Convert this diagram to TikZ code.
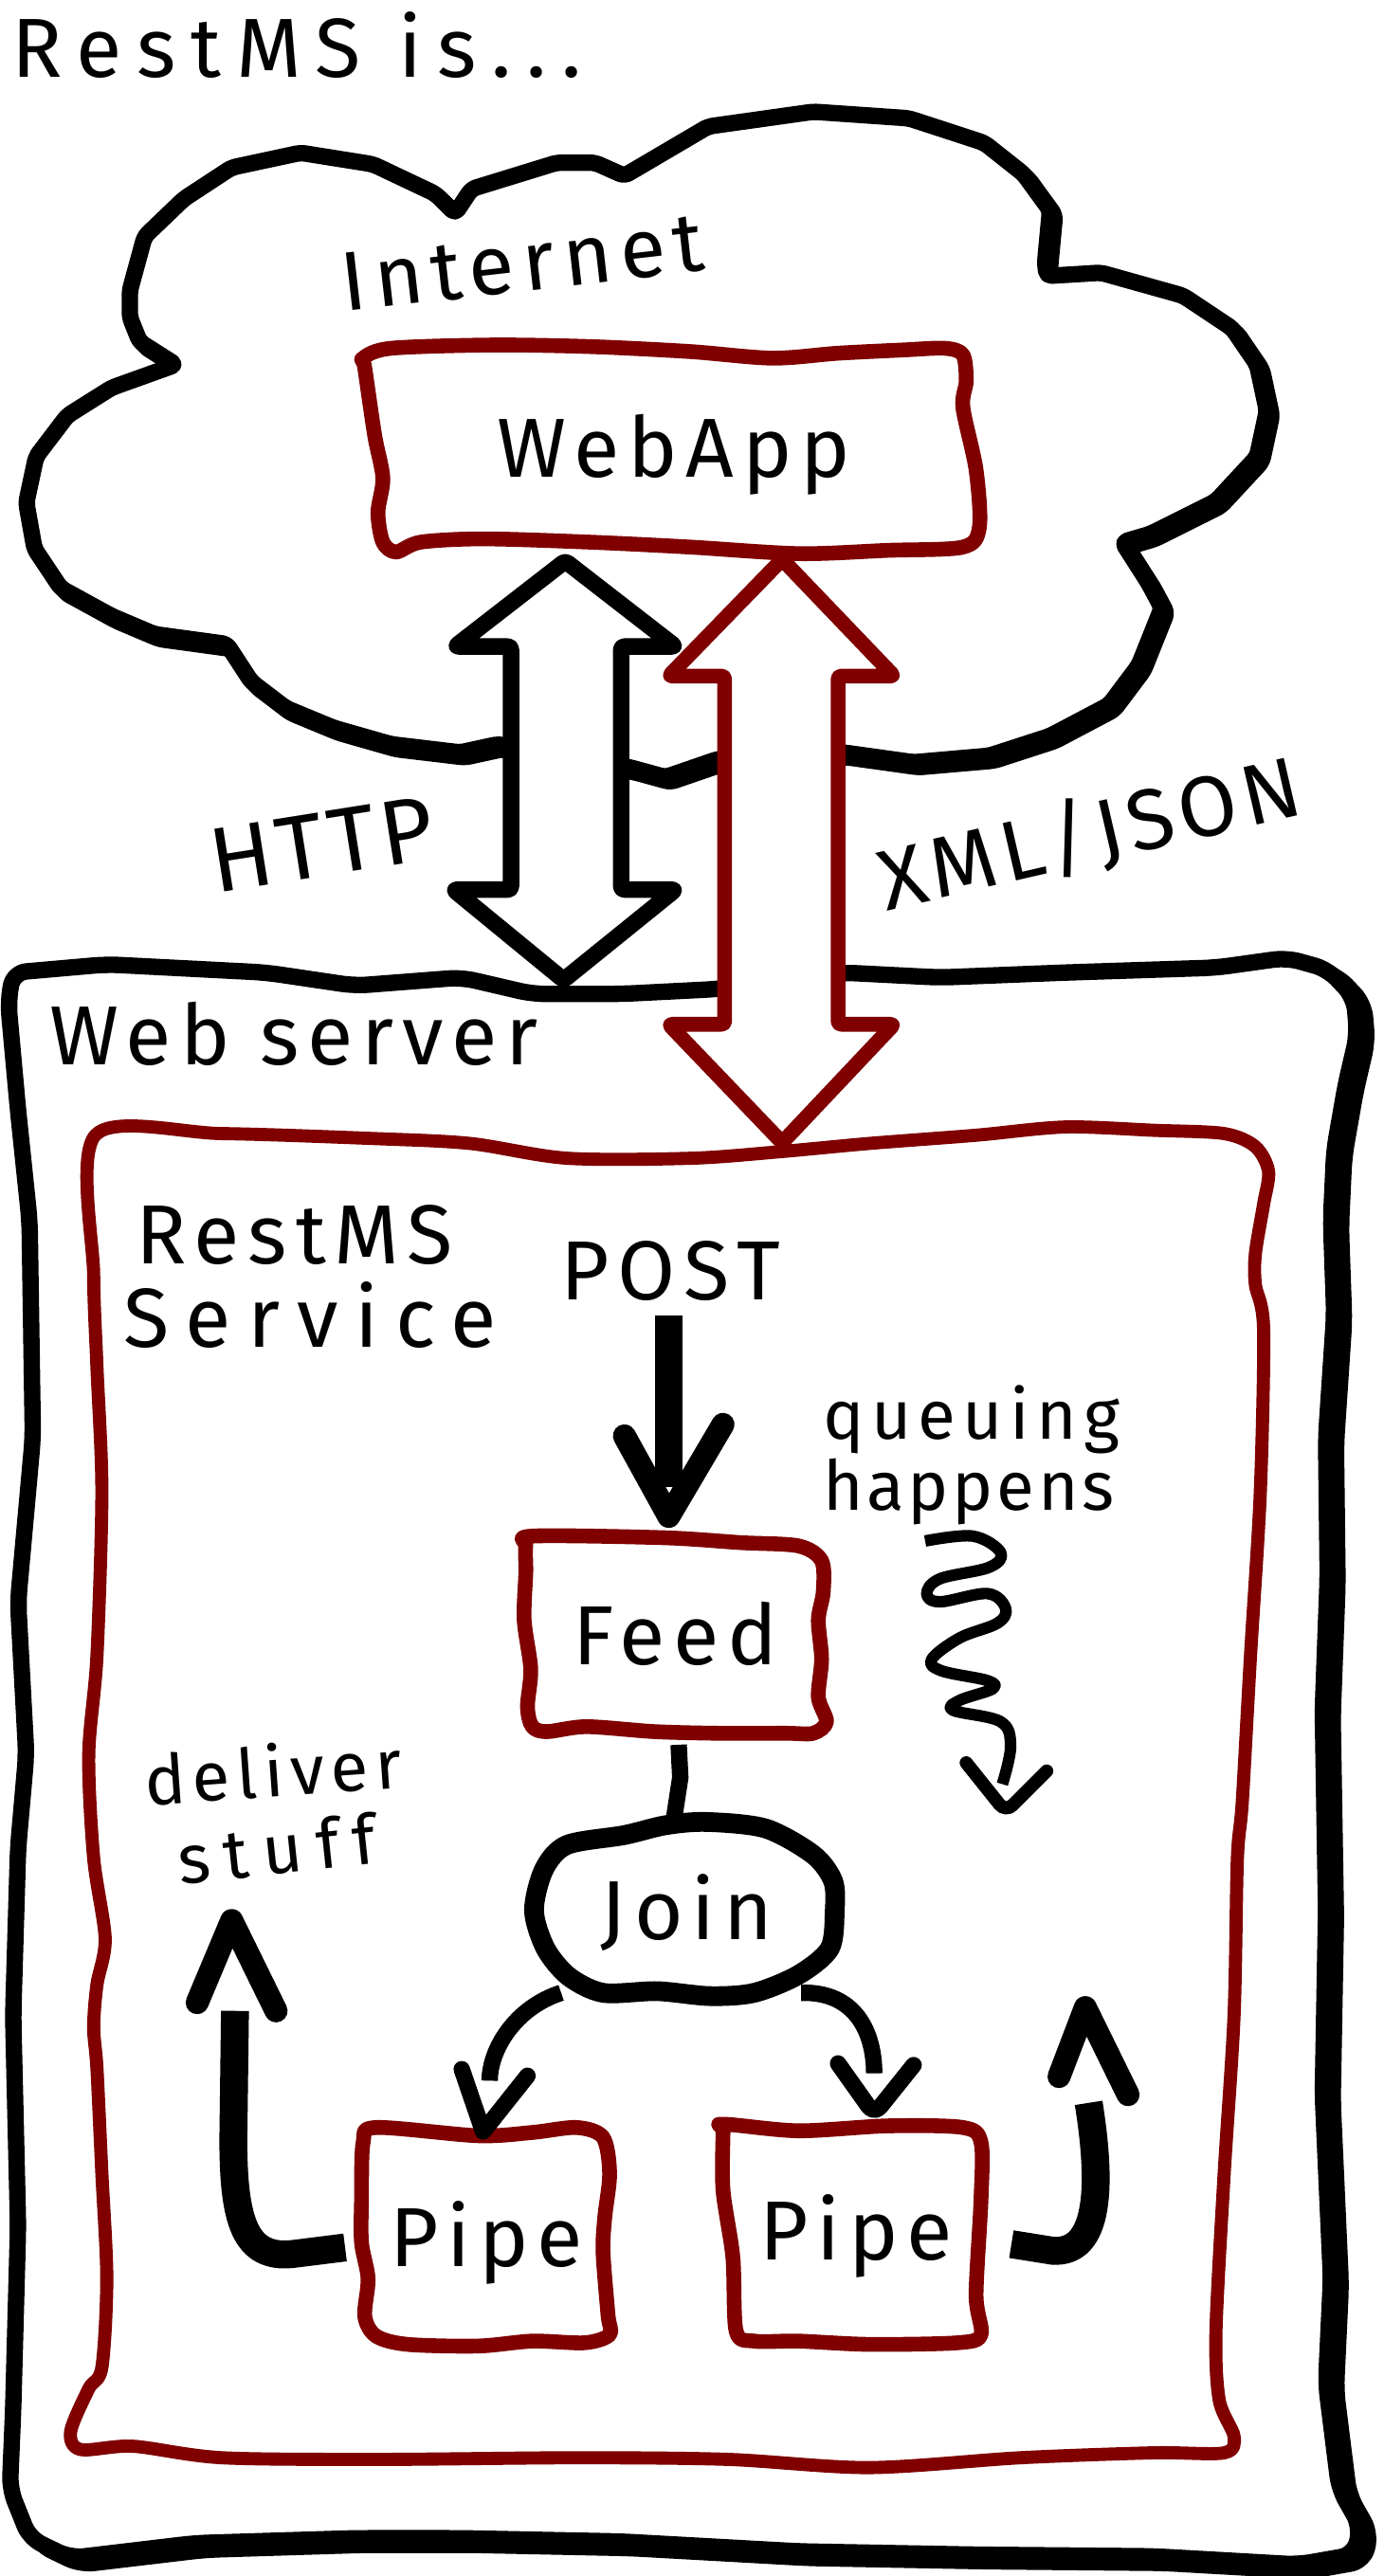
\documentclass[tikz,border=0pt]{standalone}
\usepackage{fontspec}
\setmainfont{Fira Sans}
\newfontfamily\handA{Fira Sans}[LetterSpace=10]
\newfontfamily\handT{Fira Sans}[LetterSpace=18]
\newfontfamily\handS{Fira Sans}[LetterSpace=20]
\newfontfamily\handH{Fira Sans}[LetterSpace=5]
\newfontfamily\handX{Fira Sans}[LetterSpace=7]
\usetikzlibrary{calc}
\definecolor{dred}{RGB}{128,0,0}
\newcommand\cloudpath{(107,222) -- (85,208) -- (79,193) -- (79,177) -- (88,144) -- (112,121) -- (141,102) -- (183,93) -- (227,100) -- (265,118) -- (277,130) -- (287,115) -- (339,99) -- (362,99) -- (380,107) -- (431,77) -- (495,68) -- (553,72) -- (599,87) -- (623,106) -- (639,128) -- (636,160) -- (637,168) -- (670,166) -- (720,180) -- (750,200) -- (765,222) -- (771,250) -- (765,278) -- (740,305) -- (700,325) -- (683,330) -- (699,355) -- (707,370) -- (693,405) -- (675,429) -- (639,448) -- (602,460) -- (556,464) -- (513,458) -- (437,462) -- (405,473) -- (383,467) -- (303,453) -- (280,458) -- (238,453) -- (203,443) -- (174,431) -- (153,415) -- (138,392) -- (94,386) -- (68,375) -- (37,358) -- (21,334) -- (16,306) -- (22,278) -- (41,253) -- (68,236) -- cycle}
\newcommand\wspath{(8,592) -- (65,587) -- (162,592) -- (216,600) -- (281,595) -- (324,605) -- (378,605) -- (437,602) -- (513,592) -- (572,595) -- (648,592) -- (740,589) -- (783,583) -- (808,590) -- (824,607) -- (826,630) -- (819,660) -- (812,700) -- (810,743) -- (812,800) -- (807,875) -- (808,960) -- (805,1041) -- (807,1163) -- (805,1275) -- (810,1387) -- (807,1451) -- (815,1515) -- (828,1538) -- (824,1555) -- (790,1561) -- (702,1556) -- (594,1555) -- (486,1553) -- (378,1547) -- (281,1545) -- (216,1545) -- (119,1548) -- (43,1557) -- (18,1545) -- (6,1515) -- (8,1467) -- (11,1355) -- (8,1227) -- (11,1125) -- (16,1068) -- (11,975) -- (20,875) -- (18,743) -- (11,676) -- (5,610) -- cycle}
\begin{document}
\begin{tikzpicture}[x=1pt,y=-1pt,
  every node/.style={inner sep=0pt,outer sep=0pt},
  bigtxt/.style={font={\handA\fontsize{51}{61}\selectfont}},
  httptxt/.style={font={\handH\fontsize{56}{66}\selectfont}},
  midtxt/.style={font={\handA\fontsize{42}{50}\selectfont}},
  boxnode/.style={bigtxt,text height=35pt,text depth=0pt,align=center},
  blackline/.style={draw=black,line width=10pt,line join=round,line cap=round},
  redline/.style={draw=dred,line width=9pt,line join=round,line cap=round},
  connline/.style={draw=black,line width=10pt,line cap=butt},
  fatline/.style={draw=black,line width=17pt,line cap=butt},
  headline/.style={draw=black,line width=14pt,line join=round,line cap=round},
  thinhead/.style={draw=black,line width=10pt,line join=round,line cap=round},
]
\useasboundingbox (0,0) rectangle (842,1568);
\fill[white] (0,0) rectangle (842,1568);

% title
\node[font={\handT\fontsize{51}{61}\selectfont},anchor=base west] (title) at (7,47) {RestMS is...};

% cloud
\draw[blackline,rounded corners=3pt,shift={(3,3)}] \cloudpath;
\draw[blackline,rounded corners=3pt,fill=white] \cloudpath;
\node[bigtxt,rotate=6.5] (internet) at (318,160) {Internet};

% web server
\draw[blackline,rounded corners=8pt,shift={(6,4)}] \wspath;
\draw[draw=gray!70,line width=2pt,rounded corners=8pt,shift={(3,2)}] \wspath;
\draw[blackline,rounded corners=8pt,fill=white] \wspath;
\node[bigtxt,anchor=base west] (wslabel) at (30,648) {Web server};

% WebApp
\draw[redline] plot[smooth cycle,tension=0.5] coordinates {(221,218) (238,212) (300,210) (360,211) (420,214) (470,218) (510,215) (550,213) (575,212) (586,216) (588,232) (586,248) (594,286) (596,321) (586,333) (540,335) (486,337) (420,333) (359,330) (294,328) (256,330) (241,336) (233,330) (230,312) (233,291) (228,265) (222,224)};
\node[boxnode,minimum width=370pt,minimum height=125pt] (webapp) at (410,273) {WebApp};

% HTTP double arrow
\coordinate (httpT) at ($(webapp.south)+(-66,6)$);
\draw[blackline,fill=white,rounded corners=2pt] (httpT) -- ++(67,52) -- ++(-33,0) -- ++(0,148) -- ++(33,0) -- ++(-68,55) -- ++(-67,-55) -- ++(35,0) -- ++(0,-148) -- ++(-34,0) -- cycle;
\node[httptxt,rotate=9] (http) at (196,514) {HTTP};

% XML/JSON arrow
\coordinate (xmlT) at ($(webapp.south)+(66,5)$);
\draw[redline,fill=white,rounded corners=2pt] (xmlT) -- ++(68,71) -- ++(-34,0) -- ++(0,212) -- ++(34,0) -- ++(-68,72) -- ++(-69,-72) -- ++(34,0) -- ++(0,-212) -- ++(-34,0) -- cycle;
\node[font={\handX\fontsize{52}{62}\selectfont},rotate=13] (xml) at (663,508) {XML/JSON};

% RestMS service box
\draw[redline,line width=8pt] plot[smooth cycle,tension=0.5] coordinates {(58,691) (135,690) (227,693) (286,696) (345,705) (421,705) (475,701) (529,696) (594,691) (648,686) (702,688) (745,690) (764,698) (772,713) (769,733) (764,763) (764,782) (769,809) (767,908) (761,1008) (756,1097) (753,1132) (751,1227) (745,1323) (740,1419) (742,1461) (751,1483) (745,1493) (702,1493) (621,1496) (529,1502) (443,1497) (351,1496) (232,1497) (135,1496) (81,1489) (49,1491) (43,1480) (54,1454) (62,1441) (65,1387) (62,1323) (59,1259) (57,1234) (59,1208) (64,1180) (57,1131) (54,1068) (59,1008) (62,908) (59,832) (57,776)};
\node[bigtxt,anchor=base west] (svc1) at (83,769) {RestMS};
\node[font={\handS\fontsize{51}{61}\selectfont},anchor=base west] (svc2) at (75,820) {Service};

% POST
\node[bigtxt,anchor=base] (post) at (408,791) {POST};

% Feed
\draw[redline] plot[smooth cycle,tension=0.5] coordinates {(324,935) (404,936) (451,939) (486,941) (500,950) (501,969) (498,986) (500,1010) (498,1033) (503,1048) (495,1055) (478,1055) (436,1055) (398,1054) (357,1051) (333,1054) (324,1051) (321,1039) (323,1016) (319,986) (320,957) (320,941)};
\node[boxnode,minimum width=182pt,minimum height=122pt] (feed) at (411,996) {Feed};

% POST arrow
\draw[fatline] ($(post.south)+(-1,9)$) -- ($(feed.north)+(-4,-30)$);
\draw[headline] ($(feed.north)+(-31,-61)$) -- ($(feed.north)+(-4,-12)$) -- ($(feed.north)+(29,-68)$);

% queuing happens
\node[midtxt,anchor=base west] (q1) at (501,876) {queuing};
\node[font={\handH\fontsize{42}{50}\selectfont},anchor=base west] (q2) at (501,919) {happens};
\draw[draw=black,line width=7pt,line cap=butt,line join=round] plot[smooth,tension=0.6] coordinates {(563,938) (592,935) (609,945) (602,954) (572,961) (564,970) (572,975) (601,970) (612,979) (607,988) (584,997) (567,1010) (573,1017) (601,1023) (604,1028) (584,1035) (580,1041) (609,1048) (615,1063) (610,1086)};
\draw[draw=black,line width=8pt,line cap=round,rounded corners=6pt] (588,1073) -- (612,1103) -- (637,1078);

% Join
\node[boxnode,minimum width=181pt,minimum height=106pt] (join) at (418,1163) {Join};
\draw[blackline,line width=12pt] plot[smooth cycle,tension=0.5] coordinates {(405,1111) (430,1109) (466,1113) (495,1129) (507,1145) (508,1163) (505,1186) (486,1202) (459,1213) (432,1215) (400,1212) (367,1213) (346,1203) (332,1186) (325,1163) (331,1138) (345,1123) (380,1117)};
\draw[connline] ($(feed.south)+(2,5)$) -- ($(feed.south)+(3,25)$) -- ($(join.north)+(-8,-2)$);

% Pipes
\draw[redline] plot[smooth cycle,tension=0.5] coordinates {(229,1295) (291,1300) (324,1298) (351,1295) (367,1301) (371,1323) (368,1350) (367,1371) (370,1409) (371,1421) (356,1426) (324,1425) (291,1428) (248,1427) (229,1422) (222,1410) (224,1387) (220,1365) (220,1339) (221,1304)};
\node[boxnode,minimum width=150pt,minimum height=129pt] (pipeL) at (296,1362) {Pipe};
\draw[redline] plot[smooth cycle,tension=0.5] coordinates {(440,1293) (486,1297) (540,1294) (586,1295) (597,1304) (597,1339) (594,1397) (597,1421) (583,1426) (529,1427) (486,1425) (459,1425) (448,1419) (446,1374) (440,1333) (440,1298)};
\node[boxnode,minimum width=157pt,minimum height=132pt] (pipeR) at (521,1358) {Pipe};

% Join -> pipes
\draw[connline] ($(join.south west)+(14,-3)$) .. controls ($(join.south west)+(-14,6)$) and ($(pipeL.north)+(2,-50)$) .. ($(pipeL.north)+(2,-31)$);
\draw[thinhead] ($(pipeL.north)+(-15,-38)$) -- ($(pipeL.north)+(-2,0)$) -- ($(pipeL.north)+(25,-34)$);
\draw[connline] ($(join.south east)+(-21,-3)$) .. controls ($(join.south east)+(12,-4)$) and ($(pipeR.north)+(11,-55)$) .. ($(pipeR.north)+(11,-30)$);
\draw[thinhead,rounded corners=6pt] ($(pipeR.north)+(-11,-36)$) -- ($(pipeR.north)+(11,-5)$) -- ($(pipeR.north)+(35,-35)$);

% deliver stuff
\node[midtxt,anchor=base west,rotate=4] (d1) at (89,1099) {deliver};
\node[font={\handS\fontsize{42}{50}\selectfont},anchor=base west,rotate=6] (d2) at (110,1147) {stuff};
\draw[fatline] ($(pipeL.west)+(-11,6)$) -- ($(pipeL.west)+(-43,10)$) .. controls ($(pipeL.west)+(-72,13)$) and ($(pipeL.west)+(-79,-10)$) .. ($(pipeL.west)+(-79,-60)$) -- ($(pipeL.west)+(-78,-138)$);
\draw[headline] ($(pipeL.west)+(-101,-143)$) -- ($(pipeL.west)+(-80,-193)$) -- ($(pipeL.west)+(-53,-138)$);
\draw[fatline] ($(pipeR.east)+(16,8)$) -- ($(pipeR.east)+(41,12)$) .. controls ($(pipeR.east)+(70,14)$) and ($(pipeR.east)+(71,-28)$) .. ($(pipeR.east)+(63,-78)$);
\draw[headline] ($(pipeR.east)+(45,-94)$) -- ($(pipeR.east)+(61,-136)$) -- ($(pipeR.east)+(87,-83)$);
\end{tikzpicture}
\end{document}
